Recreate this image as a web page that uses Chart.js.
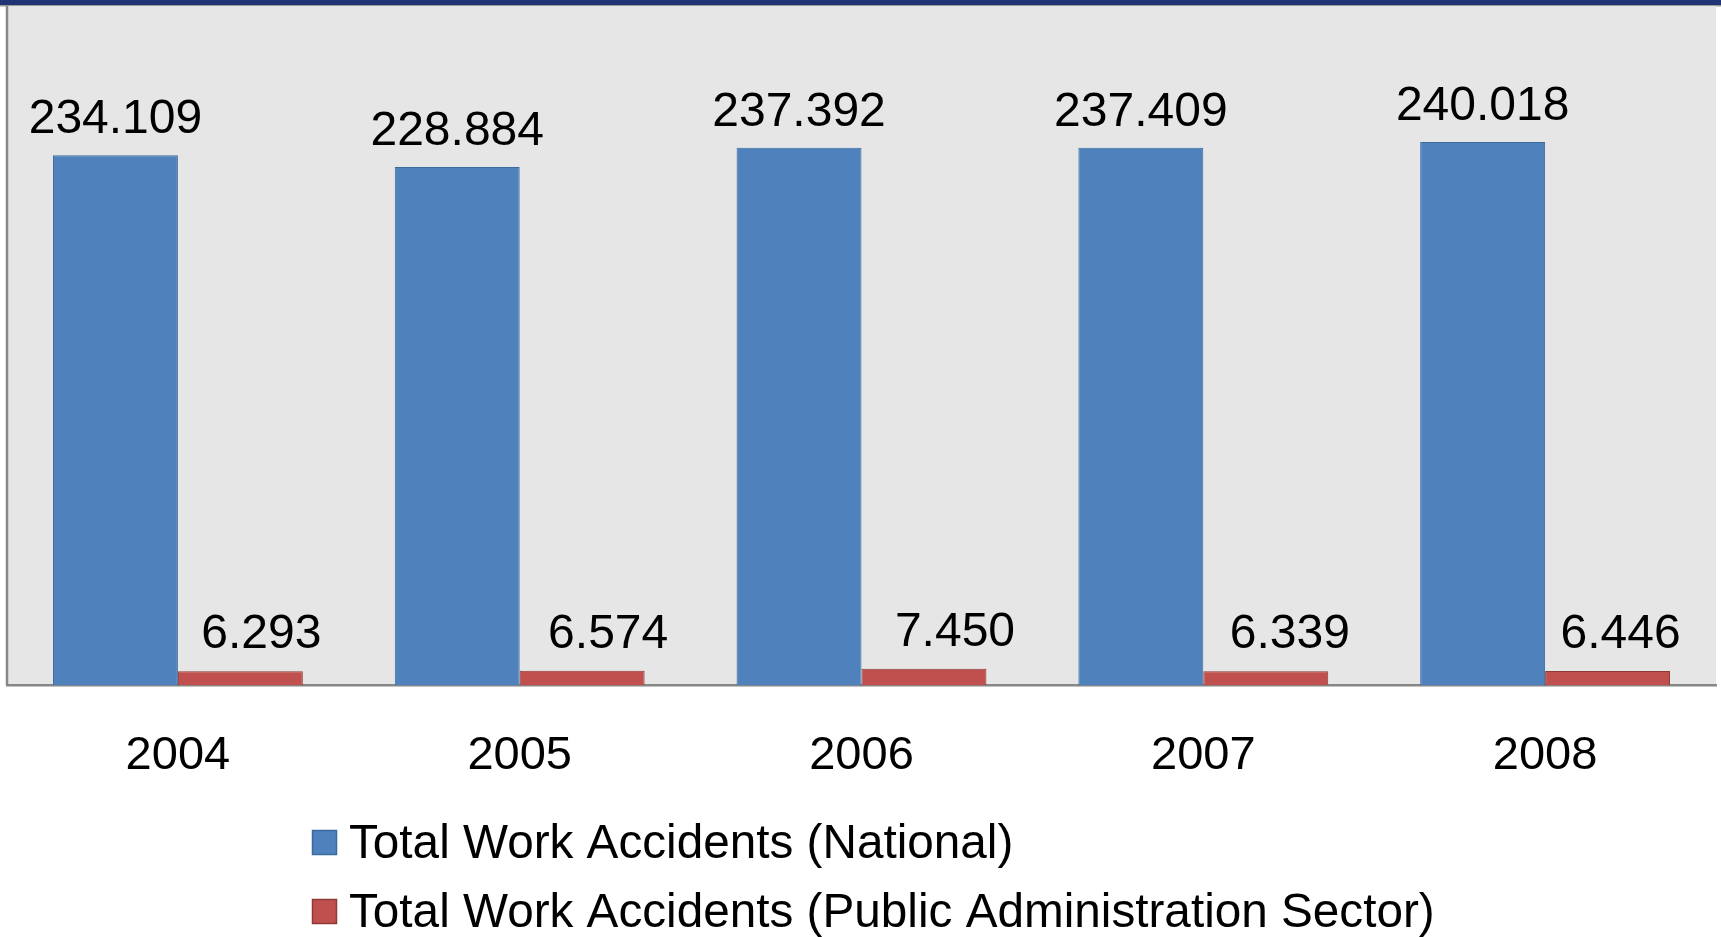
<!DOCTYPE html>
<html>
<head>
<meta charset="utf-8">
<script src="https://cdn.jsdelivr.net/npm/chart.js@4"></script>
<style>
  html, body { margin: 0; padding: 0; background: #ffffff; }
  #wrap { width: 1721px; height: 937px; position: relative; }
</style>
</head>
<body>
<div id="wrap"><canvas id="c" width="1721" height="937"></canvas></div>
<script>
// ---- data ----
const years = ['2004', '2005', '2006', '2007', '2008'];
const nationalValues = [234109, 228884, 237392, 237409, 240018];
const publicAdminValues = [6293, 6574, 7450, 6339, 6446];
const seriesNames = ['Total Work Accidents (National)', 'Total Work Accidents (Public Administration Sector)'];

// ---- styling ----
const FONT = '"Liberation Sans", Arial, sans-serif';
const FONT_SIZE = 47;
const LABEL_SIZE = 48;
const LEGEND_SIZE = 47.7;
const redLabelNudge = [21, 26, 31, 24, 13];

function fmt(v) {
  return String(v).replace(/\B(?=(\d{3})+(?!\d))/g, '.');
}

const decorPlugin = {
  id: 'decor',
  beforeDraw(chart) {
    const ctx = chart.ctx, a = chart.chartArea;
    ctx.save();
    // top banner
    ctx.fillStyle = '#1f3472';
    ctx.fillRect(0, 0, chart.width, 5);
    ctx.fillStyle = '#9a9a9a';
    ctx.fillRect(0, 5, chart.width, 1.5);
    // plot background
    ctx.fillStyle = '#e6e6e6';
    ctx.fillRect(a.left, a.top, a.right - a.left, a.bottom - a.top);
    // left border
    ctx.strokeStyle = '#878787';
    ctx.lineWidth = 2.5;
    ctx.beginPath();
    ctx.moveTo(a.left, a.top);
    ctx.lineTo(a.left, a.bottom);
    ctx.stroke();
    ctx.restore();
  },
  afterDatasetsDraw(chart) {
    const ctx = chart.ctx;
    ctx.save();
    ctx.font = LABEL_SIZE + 'px ' + FONT;
    ctx.fillStyle = '#000000';
    ctx.textAlign = 'center';
    ctx.textBaseline = 'alphabetic';
    chart.data.datasets.forEach((ds, di) => {
      const meta = chart.getDatasetMeta(di);
      meta.data.forEach((bar, i) => {
        const nudge = di === 1 ? redLabelNudge[i] : 0;
        const gap = di === 1 ? 23 : 22;
        ctx.fillText(fmt(ds.data[i]), bar.x + nudge, bar.y - gap);
      });
    });
    ctx.restore();
  },
  afterDraw(chart) {
    const ctx = chart.ctx;
    ctx.save();
    ctx.font = LEGEND_SIZE + 'px ' + FONT;
    ctx.textAlign = 'left';
    ctx.textBaseline = 'alphabetic';
    const rows = [{ box: 830, base: 858 }, { box: 899, base: 927 }];
    chart.data.datasets.forEach((ds, di) => {
      const r = rows[di];
      ctx.fillStyle = ds.backgroundColor;
      ctx.fillRect(312.5, r.box + 0.5, 24, 24);
      ctx.strokeStyle = ds.borderColor;
      ctx.lineWidth = 1.5;
      ctx.strokeRect(312.5, r.box + 0.5, 24, 24);
      ctx.fillStyle = '#000000';
      ctx.fillText(ds.label, 349, r.base);
    });
    ctx.restore();
  }
};

new Chart(document.getElementById('c'), {
  type: 'bar',
  data: {
    labels: years,
    datasets: [
      {
        label: seriesNames[0],
        data: nationalValues,
        backgroundColor: '#4f81bd',
        borderColor: '#3b6a9e',
        borderWidth: 1
      },
      {
        label: seriesNames[1],
        data: publicAdminValues,
        backgroundColor: '#c0504d',
        borderColor: '#8e3a38',
        borderWidth: 1
      }
    ]
  },
  options: {
    responsive: false,
    devicePixelRatio: 1,
    animation: false,
    layout: { padding: { left: 7, right: 5, top: 6, bottom: 111 } },
    plugins: {
      legend: { display: false },
      tooltip: { enabled: false }
    },
    datasets: {
      bar: { categoryPercentage: 0.731, barPercentage: 1.0 }
    },
    scales: {
      x: {
        grid: { display: false, drawTicks: false },
        border: { display: true, color: '#878787', width: 2.5 },
        ticks: {
          padding: 42,
          color: '#000000',
          font: { family: FONT, size: FONT_SIZE }
        }
      },
      y: {
        display: false,
        min: 0,
        max: 300000
      }
    }
  },
  plugins: [decorPlugin]
});
</script>
</body>
</html>
